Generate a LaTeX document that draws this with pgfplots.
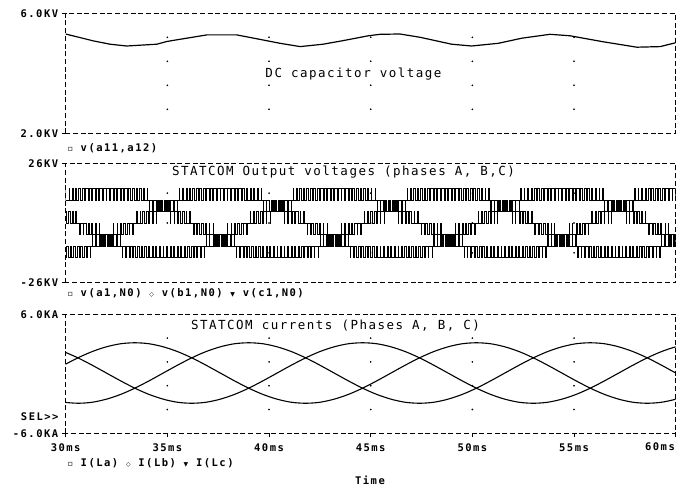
\documentclass[border=0pt]{standalone}
\usepackage{fontspec}
\usepackage{pgfplots}
\pgfplotsset{compat=1.18}
\newfontfamily\tickf[LetterSpace=14]{DejaVu Sans Mono Bold}
\newfontfamily\titlef[LetterSpace=12]{DejaVu Sans Mono}
\newfontfamily\symf{DejaVu Sans}
\newcommand{\tk}{\tickf\fontsize{10.5}{12}\selectfont}
\newcommand{\ttl}{\titlef\fontsize{12.5}{14}\selectfont}
\pgfplotsset{pspice/.style={scale only axis, width=610pt, xmin=30, xmax=60,
  axis line style={line width=0.9pt, dash pattern=on 5pt off 2.7pt},
  tick style={line width=0.9pt, black}, tick align=outside, major tick length=4pt,
  xtick pos=bottom, ytick pos=left,
  yticklabel style={font=\tk}, xticklabel style={font=\tk, yshift=-3pt}}}
\begin{document}
\begin{tikzpicture}
\path[use as bounding box] (0pt,0pt) rectangle (685pt,-486pt);
% ---------------- top: DC capacitor voltage
\begin{axis}[pspice, at={(65.7pt,-133.3pt)}, anchor=south west, height=120pt,
  ymin=2, ymax=6, ytick={2,6}, yticklabels={2.0KV,6.0KV}, xtick=\empty]
\addplot[only marks, mark=*, mark size=0.6pt] coordinates {
(35,2.8)(35,3.6)(35,4.4)(35,5.2)(40,2.8)(40,3.6)(40,4.4)(40,5.2)
(45,2.8)(45,3.6)(45,4.4)(45,5.2)(50,2.8)(50,3.6)(50,4.4)(50,5.2)
(55,2.8)(55,3.6)(55,4.4)(55,5.2)};
\addplot[black, line width=1.2pt] coordinates {
(30.00,5.31)(31.36,5.08)(32.18,4.97)(33.00,4.91)(34.48,4.97)(34.97,5.06)
(35.95,5.17)(36.94,5.28)(38.41,5.28)(39.56,5.13)(40.54,5.00)(41.53,4.89)
(42.66,4.97)(43.65,5.09)(44.88,5.25)(45.46,5.30)(46.44,5.31)(47.43,5.20)
(48.98,4.97)(49.96,4.91)(51.28,5.00)(52.43,5.17)(53.82,5.30)(54.81,5.25)
(56.44,5.05)(58.09,4.87)(59.24,4.89)(59.89,5.00)(60.00,5.02)};
\end{axis}
% ---------------- middle: output voltages
\begin{axis}[pspice, at={(65.7pt,-282.7pt)}, anchor=south west, height=119.4pt,
  ymin=-26, ymax=26, ytick={-26,26}, yticklabels={-26KV,26KV}, xtick=\empty]
\addplot[only marks, mark=*, mark size=0.6pt] coordinates {
(35,-13)(35,0)(35,13)(40,-13)(40,0)(40,13)(45,-13)(45,0)(45,13)
(50,-13)(50,0)(50,13)(55,-13)(55,0)(55,13)};
% phase a
\addplot[black, line width=0.6pt, const plot] coordinates {
(29.90,0)(29.94,5)(30.04,0)(30.115,5)(30.215,0)
(30.32,5)(30.35,0)(30.495,5)(30.525,0)
(30.67,-5)(30.70,0)(30.845,-5)(30.875,0)
(30.99,-5)(31.09,0)(31.165,-5)(31.265,0)
(31.31,-5)(31.47,0)(31.485,-5)(31.645,0)
(31.65,-5)(31.72,-10)(31.76,-5)(31.895,-10)(31.935,-5)
(32.04,-10)(32.14,-5)(32.215,-10)(32.315,-5)
(32.36,-10)(32.51,-5)(32.535,-10)(32.685,-5)
(32.70,-10)(32.78,-15)(32.80,-10)(32.955,-15)(32.975,-10)
(33.11,-15)(33.17,-10)(33.285,-15)(33.345,-10)
(33.44,-15)(33.53,-10)(33.615,-15)(33.705,-10)
(33.78,-15)(33.89,-10)(33.955,-15)(34.065,-10)
(34.12,-15)(34.25,-10)(34.295,-15)(34.425,-10)
(34.47,-15)(34.61,-10)(34.645,-15)(34.785,-10)
(34.82,-15)(34.96,-10)(34.995,-15)(35.135,-10)
(35.17,-15)(35.30,-10)(35.345,-15)(35.475,-10)
(35.53,-15)(35.64,-10)(35.705,-15)(35.815,-10)
(35.89,-15)(35.98,-10)(36.065,-15)(36.155,-10)
(36.26,-15)(36.32,-10)(36.435,-15)(36.495,-10)
(36.63,-15)(36.65,-10)(36.805,-15)(36.825,-10)
(36.90,-5)(36.91,-10)(37.06,-5)(37.085,-10)(37.235,-5)
(37.29,-10)(37.39,-5)(37.465,-10)(37.565,-5)
(37.67,-10)(37.71,-5)(37.845,-10)(37.885,-5)
(37.95,0)(37.96,-5)(38.12,0)(38.135,-5)(38.295,0)
(38.34,-5)(38.44,0)(38.515,-5)(38.615,0)
(38.72,-5)(38.75,0)(38.895,-5)(38.925,0)
(39.07,5)(39.10,0)(39.245,5)(39.275,0)
(39.39,5)(39.49,0)(39.565,5)(39.665,0)
(39.71,5)(39.87,0)(39.885,5)(40.045,0)
(40.05,5)(40.12,10)(40.16,5)(40.295,10)(40.335,5)
(40.44,10)(40.54,5)(40.615,10)(40.715,5)
(40.76,10)(40.91,5)(40.935,10)(41.085,5)
(41.10,10)(41.18,15)(41.20,10)(41.355,15)(41.375,10)
(41.51,15)(41.57,10)(41.685,15)(41.745,10)
(41.84,15)(41.93,10)(42.015,15)(42.105,10)
(42.18,15)(42.29,10)(42.355,15)(42.465,10)
(42.52,15)(42.65,10)(42.695,15)(42.825,10)
(42.87,15)(43.01,10)(43.045,15)(43.185,10)
(43.22,15)(43.36,10)(43.395,15)(43.535,10)
(43.57,15)(43.70,10)(43.745,15)(43.875,10)
(43.93,15)(44.04,10)(44.105,15)(44.215,10)
(44.29,15)(44.38,10)(44.465,15)(44.555,10)
(44.66,15)(44.72,10)(44.835,15)(44.895,10)
(45.03,15)(45.05,10)(45.205,15)(45.225,10)
(45.30,5)(45.31,10)(45.46,5)(45.485,10)(45.635,5)
(45.69,10)(45.79,5)(45.865,10)(45.965,5)
(46.07,10)(46.11,5)(46.245,10)(46.285,5)
(46.35,0)(46.36,5)(46.52,0)(46.535,5)(46.695,0)
(46.74,5)(46.84,0)(46.915,5)(47.015,0)
(47.12,5)(47.15,0)(47.295,5)(47.325,0)
(47.47,-5)(47.50,0)(47.645,-5)(47.675,0)
(47.79,-5)(47.89,0)(47.965,-5)(48.065,0)
(48.11,-5)(48.27,0)(48.285,-5)(48.445,0)
(48.45,-5)(48.52,-10)(48.56,-5)(48.695,-10)(48.735,-5)
(48.84,-10)(48.94,-5)(49.015,-10)(49.115,-5)
(49.16,-10)(49.31,-5)(49.335,-10)(49.485,-5)
(49.50,-10)(49.58,-15)(49.60,-10)(49.755,-15)(49.775,-10)
(49.91,-15)(49.97,-10)(50.085,-15)(50.145,-10)
(50.24,-15)(50.33,-10)(50.415,-15)(50.505,-10)
(50.58,-15)(50.69,-10)(50.755,-15)(50.865,-10)
(50.92,-15)(51.05,-10)(51.095,-15)(51.225,-10)
(51.27,-15)(51.41,-10)(51.445,-15)(51.585,-10)
(51.62,-15)(51.76,-10)(51.795,-15)(51.935,-10)
(51.97,-15)(52.10,-10)(52.145,-15)(52.275,-10)
(52.33,-15)(52.44,-10)(52.505,-15)(52.615,-10)
(52.69,-15)(52.78,-10)(52.865,-15)(52.955,-10)
(53.06,-15)(53.12,-10)(53.235,-15)(53.295,-10)
(53.43,-15)(53.45,-10)(53.605,-15)(53.625,-10)
(53.70,-5)(53.71,-10)(53.86,-5)(53.885,-10)(54.035,-5)
(54.09,-10)(54.19,-5)(54.265,-10)(54.365,-5)
(54.47,-10)(54.51,-5)(54.645,-10)(54.685,-5)
(54.75,0)(54.76,-5)(54.92,0)(54.935,-5)(55.095,0)
(55.14,-5)(55.24,0)(55.315,-5)(55.415,0)
(55.52,-5)(55.55,0)(55.695,-5)(55.725,0)
(55.87,5)(55.90,0)(56.045,5)(56.075,0)
(56.19,5)(56.29,0)(56.365,5)(56.465,0)
(56.51,5)(56.67,0)(56.685,5)(56.845,0)
(56.85,5)(56.92,10)(56.96,5)(57.095,10)(57.135,5)
(57.24,10)(57.34,5)(57.415,10)(57.515,5)
(57.56,10)(57.71,5)(57.735,10)(57.885,5)
(57.90,10)(57.98,15)(58.00,10)(58.155,15)(58.175,10)
(58.31,15)(58.37,10)(58.485,15)(58.545,10)
(58.64,15)(58.73,10)(58.815,15)(58.905,10)
(58.98,15)(59.09,10)(59.155,15)(59.265,10)
(59.32,15)(59.45,10)(59.495,15)(59.625,10)
(59.67,15)(59.81,10)(59.845,15)(59.985,10)
(60.05,10)};
% phase b
\addplot[black, line width=0.6pt, const plot] coordinates {
(29.90,10)(29.98,15)(30.00,10)(30.155,15)(30.175,10)
(30.31,15)(30.37,10)(30.485,15)(30.545,10)
(30.64,15)(30.73,10)(30.815,15)(30.905,10)
(30.98,15)(31.09,10)(31.155,15)(31.265,10)
(31.32,15)(31.45,10)(31.495,15)(31.625,10)
(31.67,15)(31.81,10)(31.845,15)(31.985,10)
(32.02,15)(32.16,10)(32.195,15)(32.335,10)
(32.37,15)(32.50,10)(32.545,15)(32.675,10)
(32.73,15)(32.84,10)(32.905,15)(33.015,10)
(33.09,15)(33.18,10)(33.265,15)(33.355,10)
(33.46,15)(33.52,10)(33.635,15)(33.695,10)
(33.83,15)(33.85,10)(34.005,15)(34.025,10)
(34.10,5)(34.11,10)(34.26,5)(34.285,10)(34.435,5)
(34.49,10)(34.59,5)(34.665,10)(34.765,5)
(34.87,10)(34.91,5)(35.045,10)(35.085,5)
(35.15,0)(35.16,5)(35.32,0)(35.335,5)(35.495,0)
(35.54,5)(35.64,0)(35.715,5)(35.815,0)
(35.92,5)(35.95,0)(36.095,5)(36.125,0)
(36.27,-5)(36.30,0)(36.445,-5)(36.475,0)
(36.59,-5)(36.69,0)(36.765,-5)(36.865,0)
(36.91,-5)(37.07,0)(37.085,-5)(37.245,0)
(37.25,-5)(37.32,-10)(37.36,-5)(37.495,-10)(37.535,-5)
(37.64,-10)(37.74,-5)(37.815,-10)(37.915,-5)
(37.96,-10)(38.11,-5)(38.135,-10)(38.285,-5)
(38.30,-10)(38.38,-15)(38.40,-10)(38.555,-15)(38.575,-10)
(38.71,-15)(38.77,-10)(38.885,-15)(38.945,-10)
(39.04,-15)(39.13,-10)(39.215,-15)(39.305,-10)
(39.38,-15)(39.49,-10)(39.555,-15)(39.665,-10)
(39.72,-15)(39.85,-10)(39.895,-15)(40.025,-10)
(40.07,-15)(40.21,-10)(40.245,-15)(40.385,-10)
(40.42,-15)(40.56,-10)(40.595,-15)(40.735,-10)
(40.77,-15)(40.90,-10)(40.945,-15)(41.075,-10)
(41.13,-15)(41.24,-10)(41.305,-15)(41.415,-10)
(41.49,-15)(41.58,-10)(41.665,-15)(41.755,-10)
(41.86,-15)(41.92,-10)(42.035,-15)(42.095,-10)
(42.23,-15)(42.25,-10)(42.405,-15)(42.425,-10)
(42.50,-5)(42.51,-10)(42.66,-5)(42.685,-10)(42.835,-5)
(42.89,-10)(42.99,-5)(43.065,-10)(43.165,-5)
(43.27,-10)(43.31,-5)(43.445,-10)(43.485,-5)
(43.55,0)(43.56,-5)(43.72,0)(43.735,-5)(43.895,0)
(43.94,-5)(44.04,0)(44.115,-5)(44.215,0)
(44.32,-5)(44.35,0)(44.495,-5)(44.525,0)
(44.67,5)(44.70,0)(44.845,5)(44.875,0)
(44.99,5)(45.09,0)(45.165,5)(45.265,0)
(45.31,5)(45.47,0)(45.485,5)(45.645,0)
(45.65,5)(45.72,10)(45.76,5)(45.895,10)(45.935,5)
(46.04,10)(46.14,5)(46.215,10)(46.315,5)
(46.36,10)(46.51,5)(46.535,10)(46.685,5)
(46.70,10)(46.78,15)(46.80,10)(46.955,15)(46.975,10)
(47.11,15)(47.17,10)(47.285,15)(47.345,10)
(47.44,15)(47.53,10)(47.615,15)(47.705,10)
(47.78,15)(47.89,10)(47.955,15)(48.065,10)
(48.12,15)(48.25,10)(48.295,15)(48.425,10)
(48.47,15)(48.61,10)(48.645,15)(48.785,10)
(48.82,15)(48.96,10)(48.995,15)(49.135,10)
(49.17,15)(49.30,10)(49.345,15)(49.475,10)
(49.53,15)(49.64,10)(49.705,15)(49.815,10)
(49.89,15)(49.98,10)(50.065,15)(50.155,10)
(50.26,15)(50.32,10)(50.435,15)(50.495,10)
(50.63,15)(50.65,10)(50.805,15)(50.825,10)
(50.90,5)(50.91,10)(51.06,5)(51.085,10)(51.235,5)
(51.29,10)(51.39,5)(51.465,10)(51.565,5)
(51.67,10)(51.71,5)(51.845,10)(51.885,5)
(51.95,0)(51.96,5)(52.12,0)(52.135,5)(52.295,0)
(52.34,5)(52.44,0)(52.515,5)(52.615,0)
(52.72,5)(52.75,0)(52.895,5)(52.925,0)
(53.07,-5)(53.10,0)(53.245,-5)(53.275,0)
(53.39,-5)(53.49,0)(53.565,-5)(53.665,0)
(53.71,-5)(53.87,0)(53.885,-5)(54.045,0)
(54.05,-5)(54.12,-10)(54.16,-5)(54.295,-10)(54.335,-5)
(54.44,-10)(54.54,-5)(54.615,-10)(54.715,-5)
(54.76,-10)(54.91,-5)(54.935,-10)(55.085,-5)
(55.10,-10)(55.18,-15)(55.20,-10)(55.355,-15)(55.375,-10)
(55.51,-15)(55.57,-10)(55.685,-15)(55.745,-10)
(55.84,-15)(55.93,-10)(56.015,-15)(56.105,-10)
(56.18,-15)(56.29,-10)(56.355,-15)(56.465,-10)
(56.52,-15)(56.65,-10)(56.695,-15)(56.825,-10)
(56.87,-15)(57.01,-10)(57.045,-15)(57.185,-10)
(57.22,-15)(57.36,-10)(57.395,-15)(57.535,-10)
(57.57,-15)(57.70,-10)(57.745,-15)(57.875,-10)
(57.93,-15)(58.04,-10)(58.105,-15)(58.215,-10)
(58.29,-15)(58.38,-10)(58.465,-15)(58.555,-10)
(58.66,-15)(58.72,-10)(58.835,-15)(58.895,-10)
(59.03,-15)(59.05,-10)(59.205,-15)(59.225,-10)
(59.30,-5)(59.31,-10)(59.46,-5)(59.485,-10)(59.635,-5)
(59.69,-10)(59.79,-5)(59.865,-10)(59.965,-5)
(60.05,-5)};
% phase c
\addplot[black, line width=0.6pt, const plot] coordinates {
(29.90,-10)(29.93,-15)(30.04,-10)(30.105,-15)(30.215,-10)
(30.29,-15)(30.38,-10)(30.465,-15)(30.555,-10)
(30.66,-15)(30.72,-10)(30.835,-15)(30.895,-10)
(31.03,-15)(31.05,-10)(31.205,-15)(31.225,-10)
(31.30,-5)(31.31,-10)(31.46,-5)(31.485,-10)(31.635,-5)
(31.69,-10)(31.79,-5)(31.865,-10)(31.965,-5)
(32.07,-10)(32.11,-5)(32.245,-10)(32.285,-5)
(32.35,0)(32.36,-5)(32.52,0)(32.535,-5)(32.695,0)
(32.74,-5)(32.84,0)(32.915,-5)(33.015,0)
(33.12,-5)(33.15,0)(33.295,-5)(33.325,0)
(33.47,5)(33.50,0)(33.645,5)(33.675,0)
(33.79,5)(33.89,0)(33.965,5)(34.065,0)
(34.11,5)(34.27,0)(34.285,5)(34.445,0)
(34.45,5)(34.52,10)(34.56,5)(34.695,10)(34.735,5)
(34.84,10)(34.94,5)(35.015,10)(35.115,5)
(35.16,10)(35.31,5)(35.335,10)(35.485,5)
(35.50,10)(35.58,15)(35.60,10)(35.755,15)(35.775,10)
(35.91,15)(35.97,10)(36.085,15)(36.145,10)
(36.24,15)(36.33,10)(36.415,15)(36.505,10)
(36.58,15)(36.69,10)(36.755,15)(36.865,10)
(36.92,15)(37.05,10)(37.095,15)(37.225,10)
(37.27,15)(37.41,10)(37.445,15)(37.585,10)
(37.62,15)(37.76,10)(37.795,15)(37.935,10)
(37.97,15)(38.10,10)(38.145,15)(38.275,10)
(38.33,15)(38.44,10)(38.505,15)(38.615,10)
(38.69,15)(38.78,10)(38.865,15)(38.955,10)
(39.06,15)(39.12,10)(39.235,15)(39.295,10)
(39.43,15)(39.45,10)(39.605,15)(39.625,10)
(39.70,5)(39.71,10)(39.86,5)(39.885,10)(40.035,5)
(40.09,10)(40.19,5)(40.265,10)(40.365,5)
(40.47,10)(40.51,5)(40.645,10)(40.685,5)
(40.75,0)(40.76,5)(40.92,0)(40.935,5)(41.095,0)
(41.14,5)(41.24,0)(41.315,5)(41.415,0)
(41.52,5)(41.55,0)(41.695,5)(41.725,0)
(41.87,-5)(41.90,0)(42.045,-5)(42.075,0)
(42.19,-5)(42.29,0)(42.365,-5)(42.465,0)
(42.51,-5)(42.67,0)(42.685,-5)(42.845,0)
(42.85,-5)(42.92,-10)(42.96,-5)(43.095,-10)(43.135,-5)
(43.24,-10)(43.34,-5)(43.415,-10)(43.515,-5)
(43.56,-10)(43.71,-5)(43.735,-10)(43.885,-5)
(43.90,-10)(43.98,-15)(44.00,-10)(44.155,-15)(44.175,-10)
(44.31,-15)(44.37,-10)(44.485,-15)(44.545,-10)
(44.64,-15)(44.73,-10)(44.815,-15)(44.905,-10)
(44.98,-15)(45.09,-10)(45.155,-15)(45.265,-10)
(45.32,-15)(45.45,-10)(45.495,-15)(45.625,-10)
(45.67,-15)(45.81,-10)(45.845,-15)(45.985,-10)
(46.02,-15)(46.16,-10)(46.195,-15)(46.335,-10)
(46.37,-15)(46.50,-10)(46.545,-15)(46.675,-10)
(46.73,-15)(46.84,-10)(46.905,-15)(47.015,-10)
(47.09,-15)(47.18,-10)(47.265,-15)(47.355,-10)
(47.46,-15)(47.52,-10)(47.635,-15)(47.695,-10)
(47.83,-15)(47.85,-10)(48.005,-15)(48.025,-10)
(48.10,-5)(48.11,-10)(48.26,-5)(48.285,-10)(48.435,-5)
(48.49,-10)(48.59,-5)(48.665,-10)(48.765,-5)
(48.87,-10)(48.91,-5)(49.045,-10)(49.085,-5)
(49.15,0)(49.16,-5)(49.32,0)(49.335,-5)(49.495,0)
(49.54,-5)(49.64,0)(49.715,-5)(49.815,0)
(49.92,-5)(49.95,0)(50.095,-5)(50.125,0)
(50.27,5)(50.30,0)(50.445,5)(50.475,0)
(50.59,5)(50.69,0)(50.765,5)(50.865,0)
(50.91,5)(51.07,0)(51.085,5)(51.245,0)
(51.25,5)(51.32,10)(51.36,5)(51.495,10)(51.535,5)
(51.64,10)(51.74,5)(51.815,10)(51.915,5)
(51.96,10)(52.11,5)(52.135,10)(52.285,5)
(52.30,10)(52.38,15)(52.40,10)(52.555,15)(52.575,10)
(52.71,15)(52.77,10)(52.885,15)(52.945,10)
(53.04,15)(53.13,10)(53.215,15)(53.305,10)
(53.38,15)(53.49,10)(53.555,15)(53.665,10)
(53.72,15)(53.85,10)(53.895,15)(54.025,10)
(54.07,15)(54.21,10)(54.245,15)(54.385,10)
(54.42,15)(54.56,10)(54.595,15)(54.735,10)
(54.77,15)(54.90,10)(54.945,15)(55.075,10)
(55.13,15)(55.24,10)(55.305,15)(55.415,10)
(55.49,15)(55.58,10)(55.665,15)(55.755,10)
(55.86,15)(55.92,10)(56.035,15)(56.095,10)
(56.23,15)(56.25,10)(56.405,15)(56.425,10)
(56.50,5)(56.51,10)(56.66,5)(56.685,10)(56.835,5)
(56.89,10)(56.99,5)(57.065,10)(57.165,5)
(57.27,10)(57.31,5)(57.445,10)(57.485,5)
(57.55,0)(57.56,5)(57.72,0)(57.735,5)(57.895,0)
(57.94,5)(58.04,0)(58.115,5)(58.215,0)
(58.32,5)(58.35,0)(58.495,5)(58.525,0)
(58.67,-5)(58.70,0)(58.845,-5)(58.875,0)
(58.99,-5)(59.09,0)(59.165,-5)(59.265,0)
(59.31,-5)(59.47,0)(59.485,-5)(59.645,0)
(59.65,-5)(59.72,-10)(59.76,-5)(59.895,-10)(59.935,-5)
(60.05,-5)};
\end{axis}
% ---------------- bottom: currents
\pgfplotstableread{
t a b c
29.90 -2.87 0.87 2.24
30.60 -2.97 1.61 1.61
31.30 -2.87 2.24 0.87
32.00 -2.56 2.72 0.08
32.70 -2.08 3.03 -0.71
33.40 -1.45 3.13 -1.45
34.10 -0.71 3.03 -2.08
34.80 0.08 2.72 -2.56
35.50 0.87 2.24 -2.87
36.20 1.61 1.61 -2.97
36.90 2.24 0.87 -2.87
37.60 2.72 0.08 -2.56
38.30 3.03 -0.71 -2.08
39.00 3.13 -1.45 -1.45
39.70 3.03 -2.08 -0.71
40.40 2.72 -2.56 0.08
41.10 2.24 -2.87 0.87
41.80 1.61 -2.97 1.61
42.50 0.87 -2.87 2.24
43.20 0.08 -2.56 2.72
43.90 -0.71 -2.08 3.03
44.60 -1.45 -1.45 3.13
45.30 -2.08 -0.71 3.03
46.00 -2.56 0.08 2.72
46.70 -2.87 0.87 2.24
47.40 -2.97 1.61 1.61
48.10 -2.87 2.24 0.87
48.80 -2.56 2.72 0.08
49.50 -2.08 3.03 -0.71
50.20 -1.45 3.13 -1.45
50.90 -0.71 3.03 -2.08
51.60 0.08 2.72 -2.56
52.30 0.87 2.24 -2.87
53.00 1.61 1.61 -2.97
53.70 2.24 0.87 -2.87
54.40 2.72 0.08 -2.56
55.10 3.03 -0.71 -2.08
55.80 3.13 -1.45 -1.45
56.50 3.03 -2.08 -0.71
57.20 2.72 -2.56 0.08
57.90 2.24 -2.87 0.87
58.60 1.61 -2.97 1.61
59.30 0.87 -2.87 2.24
60.00 0.08 -2.56 2.72
60.70 -0.71 -2.08 3.03
}\currents
\begin{axis}[pspice, at={(65.7pt,-433.3pt)}, anchor=south west, height=119pt,
  ymin=-6, ymax=6, ytick={-6,6}, yticklabels={-6.0KA,6.0KA},
  xtick={30,35,40,45,50,55,60}, xticklabels={30ms,35ms,40ms,45ms,50ms,55ms,{}}]
\addplot[only marks, mark=*, mark size=0.6pt] coordinates {
(35,-3.6)(35,-1.2)(35,1.2)(35,3.6)(40,-3.6)(40,-1.2)(40,1.2)(40,3.6)
(45,-3.6)(45,-1.2)(45,1.2)(45,3.6)(50,-3.6)(50,-1.2)(50,1.2)(50,3.6)
(55,-3.6)(55,-1.2)(55,1.2)(55,3.6)};
\addplot[black, line width=1.1pt, smooth] table[x=t, y=a] {\currents};
\addplot[black, line width=1.1pt, smooth] table[x=t, y=b] {\currents};
\addplot[black, line width=1.1pt, smooth] table[x=t, y=c] {\currents};
\end{axis}
% ---------------- texts
\node[font=\ttl] at (353.5pt,-74pt) {DC capacitor voltage};
\node[font=\ttl] at (343.5pt,-172.5pt) {STATCOM Output voltages (phases A, B,C)};
\node[font=\ttl] at (335.5pt,-326pt) {STATCOM currents (Phases A, B, C)};
\node[anchor=west, font=\tk] at (64pt,-148.5pt) {{\symf\fontsize{8}{8}\selectfont ▫} v(a11,a12)};
\node[anchor=west, font=\tk] at (64pt,-293pt) {{\symf\fontsize{8}{8}\selectfont ▫} v(a1,N0) {\symf\fontsize{6}{6}\selectfont ◇} v(b1,N0) {\symf\fontsize{6}{6}\selectfont ▼} v(c1,N0)};
\node[anchor=west, font=\tk] at (64pt,-463pt) {{\symf\fontsize{8}{8}\selectfont ▫} I(La) {\symf\fontsize{6}{6}\selectfont ◇} I(Lb) {\symf\fontsize{6}{6}\selectfont ▼} I(Lc)};
\node[font=\tk] at (370pt,-480pt) {Time};
\node[anchor=east, font=\tk] at (62pt,-417pt) {SEL>>};
\node[font=\tk] at (660pt,-447pt) {60ms};
\end{tikzpicture}
\end{document}
